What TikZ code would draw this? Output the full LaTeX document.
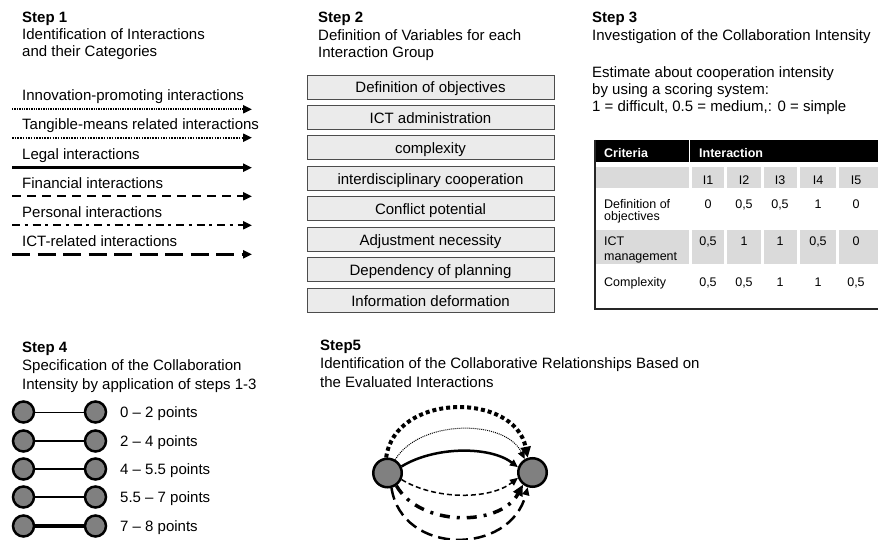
\documentclass[tikz,border=0pt]{standalone}
\usepackage{fontspec}
\setmainfont{Liberation Sans}
\usetikzlibrary{arrows.meta}
\definecolor{boxfill}{HTML}{EBEBEB}
\definecolor{cellgray}{HTML}{DADADA}
\definecolor{dotgray}{HTML}{808080}
\begin{document}
\begin{tikzpicture}[x=1pt,y=1pt,
  txt/.style={anchor=base west,inner sep=0pt,font=\fontsize{15}{17}\selectfont},
  hd/.style={anchor=base west,inner sep=0pt,font=\fontsize{15}{17}\selectfont\bfseries},
  tb/.style={anchor=base west,inner sep=0pt,font=\fontsize{12.5}{14}\selectfont},
  tbh/.style={anchor=base west,inner sep=0pt,text=white,font=\fontsize{12.5}{14}\selectfont\bfseries},
  tc/.style={anchor=base,inner sep=0pt,font=\fontsize{12.5}{14}\selectfont},
  varbox/.style={draw=black!70,fill=boxfill,line width=0.8pt,minimum width=247pt,minimum height=24pt,inner sep=0pt,text height=12pt,text depth=0pt,font=\fontsize{15}{17}\selectfont},
  arr/.style={-{Triangle[length=9pt,width=8pt]}},
  arrs/.style={-{Triangle[length=8pt,width=7pt]}},
  arrb/.style={-{Triangle[length=11pt,width=10pt]}},
  smalldot/.style={circle,draw=black,fill=dotgray,line width=2.5pt,minimum size=21pt,inner sep=0pt},
  bigdot/.style={circle,draw=black,fill=dotgray,line width=2.5pt,minimum size=28.5pt,inner sep=0pt},
]
\useasboundingbox (0,0) rectangle (878,-540);
\fill[white] (0,0) rectangle (878,-540);

% ---------- Step 1 ----------
\node[hd]  (s1t) at (22,-22.7) {Step 1};
\node[txt] (s1a) at (22,-40)   {Identification of Interactions};
\node[txt] (s1b) at (22,-57)   {and their Categories};

\node[txt] (i1) at (22,-101)   {Innovation-promoting interactions};
\node[txt] (i2) at (22,-129.5) {Tangible-means related interactions};
\node[txt] (i3) at (22,-159.5) {Legal interactions};
\node[txt] (i4) at (22,-189)   {Financial interactions};
\node[txt] (i5) at (22,-218)   {Personal interactions};
\node[txt] (i6) at (22,-246.7) {ICT-related interactions};

\coordinate (a1s) at (12,-109.3); \coordinate (a1e) at (252,-109.3);
\coordinate (a2s) at (12,-137.7); \coordinate (a2e) at (252,-137.7);
\coordinate (a3s) at (12,-167.7); \coordinate (a3e) at (252,-167.7);
\coordinate (a4s) at (12,-196.3); \coordinate (a4e) at (252,-196.3);
\coordinate (a5s) at (12,-225.3); \coordinate (a5e) at (252,-225.3);
\coordinate (a6s) at (12,-254.3); \coordinate (a6e) at (252,-254.3);

\draw[arr,line width=2pt,dash pattern=on 1.3pt off 1.1pt] (a1s) -- (a1e);
\draw[arr,line width=2pt,dash pattern=on 1.5pt off 1.2pt] (a2s) -- (a2e);
\draw[arr,line width=2.5pt] (a3s) -- (a3e);
\draw[arr,line width=2pt,dash pattern=on 9pt off 6pt] (a4s) -- (a4e);
\draw[arr,line width=2pt,dash pattern=on 8pt off 4.5pt on 3pt off 5pt] (a5s) -- (a5e);
\draw[arr,line width=2.5pt,dash pattern=on 18pt off 7.5pt] (a6s) -- (a6e);

% ---------- Step 2 ----------
\node[hd]  (s2t) at (318,-22.7) {Step 2};
\node[txt] (s2a) at (318,-40.5) {Definition of Variables for each};
\node[txt] (s2b) at (318,-58)   {Interaction Group};

\node[varbox] (v1) at (430.5,-87)     {Definition of objectives};
\node[varbox] (v2) at (430.5,-117.43) {ICT administration};
\node[varbox] (v3) at (430.5,-147.86) {complexity};
\node[varbox] (v4) at (430.5,-178.29) {interdisciplinary cooperation};
\node[varbox] (v5) at (430.5,-208.72) {Conflict potential};
\node[varbox] (v6) at (430.5,-239.15) {Adjustment necessity};
\node[varbox] (v7) at (430.5,-269.58) {Dependency of planning};
\node[varbox] (v8) at (430.5,-300)    {Information deformation};

% ---------- Step 3 ----------
\node[hd]  (s3t) at (592,-22.7) {Step 3};
\node[txt] (s3a) at (592,-41)   {Investigation of the Collaboration Intensity};
\node[txt] (s3b) at (592,-78)   {Estimate about cooperation intensity};
\node[txt] (s3c) at (592,-95)   {by using a scoring system:};
\node[txt] (s3d) at (592,-111.5){1 = difficult, 0.5 = medium,: 0 = simple};

% table
\fill[black] (594,-140) rectangle (878,-162.3);
\draw[white,line width=1pt] (689.3,-140) -- (689.3,-162.3);
\foreach \ya/\yb in {166.7/188.3, 230/264.3}{
  \foreach \xa/\xb in {596/688.5, 691.5/724, 727/760.5, 763.5/797, 800/836, 839/878}{
    \fill[cellgray] (\xa,-\ya) rectangle (\xb,-\yb);
  }
}
\draw[black!85,line width=2pt] (595,-140) -- (595,-309) -- (878,-309);

\node[tbh] (th1) at (604,-157.7) {Criteria};
\node[tbh] (th2) at (699,-157.7) {Interaction};
\foreach \n/\x in {1/708,2/744,3/780,4/818,5/856}{
  \node[tc] (hI\n) at (\x,-185) {I\n};
}
\node[tb] (r1a) at (604,-208) {Definition of};
\node[tb] (r1b) at (604,-221) {objectives};
\node[tb] (r2a) at (604,-246) {ICT};
\node[tb] (r2b) at (604,-260) {management};
\node[tb] (r3a) at (604,-286.7) {Complexity};
\foreach \v [count=\n] in {0,{0,5},{0,5},1,0}{
  \pgfmathsetmacro{\xx}{{708,744,780,818,856}[\n-1]}
  \node[tc] (d1\n) at (\xx,-208) {\v};
}
\foreach \v [count=\n] in {{0,5},1,1,{0,5},0}{
  \pgfmathsetmacro{\xx}{{708,744,780,818,856}[\n-1]}
  \node[tc] (d2\n) at (\xx,-246) {\v};
}
\foreach \v [count=\n] in {{0,5},{0,5},1,1,{0,5}}{
  \pgfmathsetmacro{\xx}{{708,744,780,818,856}[\n-1]}
  \node[tc] (d3\n) at (\xx,-286.7) {\v};
}

% ---------- Step 4 ----------
\node[hd]  (s4t) at (22,-352.7) {Step 4};
\node[txt] (s4a) at (22,-370.7) {Specification of the Collaboration};
\node[txt] (s4b) at (22,-389)   {Intensity by application of steps 1-3};

\foreach \y/\w/\lab [count=\n] in {412/1/{0 -- 2 points},441/1.7/{2 -- 4 points},469/2.2/{4 -- 5.5 points},497/2.9/{5.5 -- 7 points},526/4/{7 -- 8 points}}{
  \node[smalldot] (pl\n) at (23.5,-\y) {};
  \node[smalldot] (pr\n) at (95.5,-\y) {};
  \draw[line width=\w pt] (pl\n) -- (pr\n);
  \node[txt] (pt\n) at (120,-\y-5) {\lab};
}

% ---------- Step 5 ----------
\node[hd]  (s5t) at (320,-350)   {Step5};
\node[txt] (s5a) at (320,-368.7) {Identification of the Collaborative Relationships Based on};
\node[txt] (s5b) at (320,-387)   {the Evaluated Interactions};

\node[bigdot] (L) at (387.5,-473) {};
\node[bigdot] (R) at (532.5,-472.5) {};

\draw[arrb,line width=4pt,dash pattern=on 4pt off 3pt] (L.95) .. controls (395,-392) and (515,-392) .. (R.108);
\draw[arrs,line width=1pt,dash pattern=on 1pt off 1pt] (L.60) .. controls (420,-419) and (505,-419) .. (R.120);
\draw[arrs,line width=2.5pt] (L.25) .. controls (435,-446) and (490,-446) .. (R.160);
\draw[arrs,line width=1.5pt,dash pattern=on 5pt off 3pt] (L.-25) .. controls (435,-500) and (490,-500) .. (R.-160);
\draw[arrb,line width=3.5pt,dash pattern=on 10pt off 7pt on 3pt off 7pt] (L.-55) .. controls (420,-527) and (500,-527) .. (R.-128);
\draw[arrs,line width=2.5pt,dash pattern=on 12pt off 6pt] (L.-75) .. controls (402,-556) and (510,-556) .. (R.-108);

\end{tikzpicture}
\end{document}
